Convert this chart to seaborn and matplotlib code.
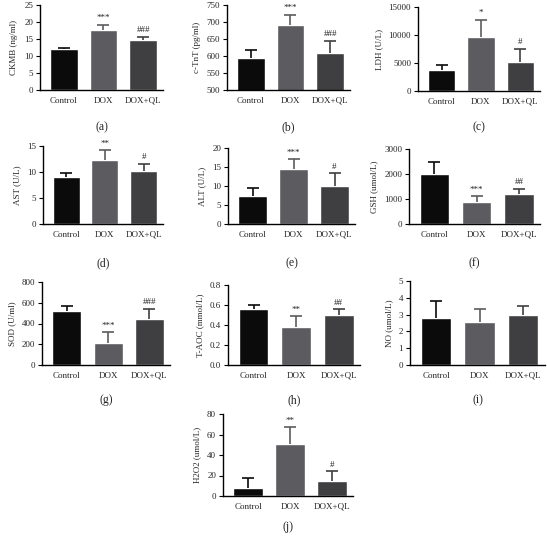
import numpy as np
import pandas as pd
import matplotlib
matplotlib.use("Agg")
import matplotlib.pyplot as plt
import seaborn as sns

groups = ["Control", "DOX", "DOX+QL"]

ckmb = [12.0, 17.7, 14.6]
ckmb_sd = [0.5, 1.5, 1.0]
ctnt = [595, 692, 610]
ctnt_sd = [23, 30, 35]
ldh = [3800, 9600, 5200]
ldh_sd = [800, 3100, 2300]
ast = [9.0, 12.3, 10.1]
ast_sd = [0.9, 1.9, 1.5]
alt = [7.5, 14.4, 9.9]
alt_sd = [2.1, 2.6, 3.5]
gsh = [2020, 880, 1220]
gsh_sd = [450, 240, 190]
sod = [525, 215, 440]
sod_sd = [45, 100, 100]
taoc = [0.56, 0.38, 0.505]
taoc_sd = [0.045, 0.11, 0.055]
no = [2.8, 2.55, 2.95]
no_sd = [1.0, 0.8, 0.55]
h2o2 = [8, 51, 14.5]
h2o2_sd = [9.5, 16, 9.5]

ylabels = ["CKMB (ng/ml)", "c-TnT (pg/ml)", "LDH (U/L)", "AST (U/L)", "ALT (U/L)",
           "GSH (umol/L)", "SOD (U/ml)", "T-AOC (mmol/L)", "NO (umol/L)", "H2O2 (umol/L)"]
letters = ["(a)", "(b)", "(c)", "(d)", "(e)", "(f)", "(g)", "(h)", "(i)", "(j)"]
signif = [["", "***", "###"], ["", "***", "###"], ["", "*", "#"], ["", "**", "#"],
          ["", "***", "#"], ["", "***", "##"], ["", "***", "###"], ["", "**", "##"],
          ["", "", ""], ["", "**", "#"]]
yticks = [np.arange(0, 26, 5), np.arange(500, 751, 50), np.arange(0, 15001, 5000),
          np.arange(0, 16, 5), np.arange(0, 21, 5), np.arange(0, 3001, 1000),
          np.arange(0, 801, 200), np.arange(0, 0.81, 0.2), np.arange(0, 6, 1),
          np.arange(0, 81, 20)]

means = [ckmb, ctnt, ldh, ast, alt, gsh, sod, taoc, no, h2o2]
sds = [ckmb_sd, ctnt_sd, ldh_sd, ast_sd, alt_sd, gsh_sd, sod_sd, taoc_sd, no_sd, h2o2_sd]

colors = ["#0b0b0b", "#5c5c60", "#3f3f42"]

sns.set_style("ticks")
plt.rcParams["font.family"] = ["Liberation Serif", "DejaVu Serif"]

W, H = 547, 545
fig = plt.figure(figsize=(W / 100, H / 100), dpi=100)

# axes boxes in pixels: left, right, top, bottom
boxes = [(40, 163, 5, 90), (227, 350, 5, 90), (418, 540, 7, 91),
         (43, 163, 146, 224), (228, 355, 148, 224), (409, 540, 149, 224),
         (42, 170, 282, 365), (228, 360, 285, 365), (410, 545, 281, 365),
         (223, 353, 414, 496)]
letter_y = [127, 127, 127, 263, 263, 263, 400, 400, 400, 527]

for i in range(10):
    l, r, t, b = boxes[i]
    ax = fig.add_axes([l / W, 1 - b / H, (r - l) / W, (b - t) / H])
    df = pd.DataFrame({"group": groups, "value": means[i]})
    sns.barplot(data=df, x="group", y="value", hue="group", palette=colors,
                width=0.7, errorbar=None, legend=False, ax=ax, saturation=1)
    for j in range(3):
        cont = ax.errorbar(j, means[i][j], yerr=[[0], [sds[i][j]]], color=colors[j],
                           capsize=4, elinewidth=1.2, capthick=1.2, fmt="none")
        cont[1][0].set_visible(False)
    lo, hi = yticks[i][0], yticks[i][-1]
    ax.set_ylim(lo, hi)
    ax.set_xlim(-0.6, 2.5)
    ax.set_yticks(yticks[i])
    if i == 7:
        ax.set_yticklabels(["%.1f" % v for v in yticks[i]])
    ax.set_xlabel("")
    ax.set_ylabel(ylabels[i], fontsize=6.5, labelpad=4)
    ax.tick_params(axis="both", labelsize=6.5, length=3, width=0.8, pad=2, color="black")
    ax.tick_params(axis="x", length=0, pad=5)
    sns.despine(ax=ax)
    for s in ["left", "bottom"]:
        ax.spines[s].set_linewidth(1.0)
        ax.spines[s].set_color("black")
    rng = hi - lo
    for j in range(3):
        if signif[i][j]:
            ax.text(j, means[i][j] + sds[i][j] + 0.03 * rng, signif[i][j],
                    ha="center", va="bottom", fontsize=6.5, color="#222222")
    fig.text((l + r) / 2 / W, 1 - letter_y[i] / H, letters[i], ha="center",
             va="center", fontsize=8.5)

fig.savefig("out.png", dpi=100)
